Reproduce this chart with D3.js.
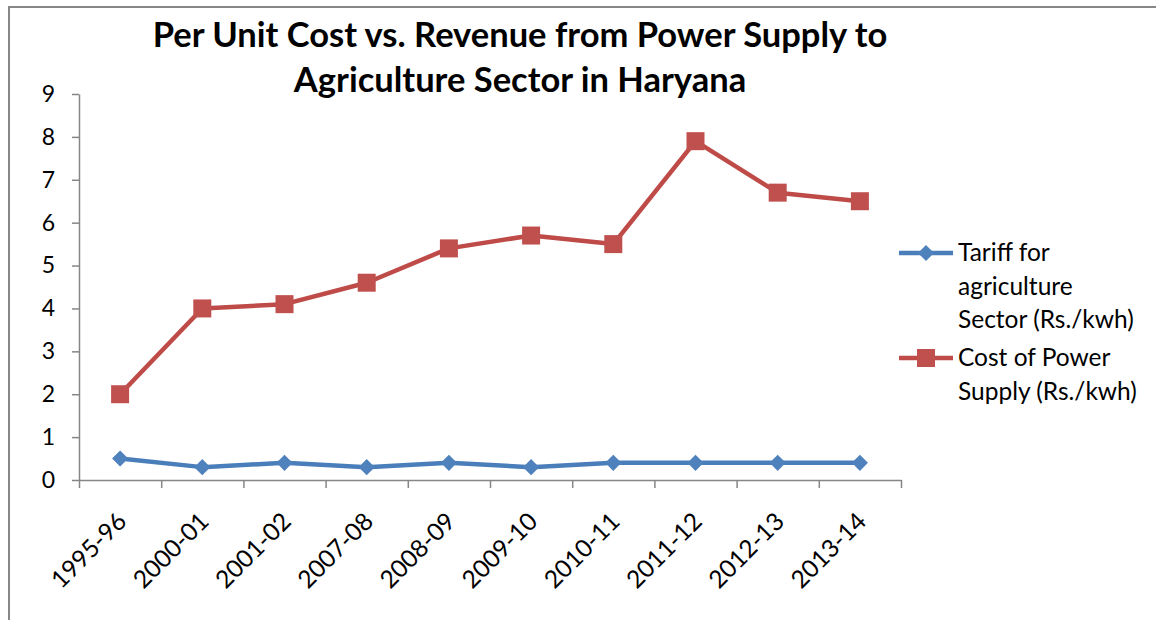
<!DOCTYPE html>
<html lang="en">
<head>
<meta charset="UTF-8">
<script src="https://d3js.org/d3.v7.min.js"></script>
<style>
  body { margin: 0; background: #fff; }
  svg text { font-family: Lato, "Open Sans", sans-serif; fill: #000; }
</style>
</head>
<body>
<div id="chart"></div>
<script>
// chart data
var years = ["1995-96", "2000-01", "2001-02", "2007-08", "2008-09", "2009-10", "2010-11", "2011-12", "2012-13", "2013-14"];
var tariff = [0.5, 0.3, 0.4, 0.3, 0.4, 0.3, 0.4, 0.4, 0.4, 0.4];
var cost = [2, 4, 4.1, 4.6, 5.4, 5.7, 5.5, 7.9, 6.7, 6.5];
var yTicks = [0, 1, 2, 3, 4, 5, 6, 7, 8, 9];
var titleLines = ["Per Unit Cost vs. Revenue from Power Supply to", "Agriculture Sector in Haryana"];

var width = 1156, height = 620;
var margin = {top: 94, right: 255, bottom: 140, left: 79};

var svg = d3.select("#chart").append("svg")
    .attr("width", width)
    .attr("height", height);

// outer chart border (runs off right and bottom)
svg.append("rect")
    .attr("x", 9).attr("y", 7)
    .attr("width", 1200).attr("height", 700)
    .attr("fill", "none")
    .attr("stroke", "#878787")
    .attr("stroke-width", 2);

var x = d3.scaleBand()
    .domain(years)
    .range([margin.left, width - margin.right]);

var xEdges = d3.scaleLinear()
    .domain([0, years.length])
    .range([margin.left, width - margin.right]);

var y = d3.scaleLinear()
    .domain([0, 9])
    .range([height - margin.bottom, margin.top]);

var cx = d => x(d) + x.bandwidth() / 2;

// y axis
svg.append("g")
    .attr("transform", `translate(${margin.left},0)`)
    .call(d3.axisLeft(y).tickValues(yTicks).tickSize(7).tickPadding(17).tickSizeOuter(0))
    .call(g => g.selectAll("path, line").attr("stroke", "#868686").attr("stroke-width", 1.5))
    .call(g => g.selectAll("text").attr("font-size", 23).attr("font-family", "Lato"));

// x axis: ticks between categories
svg.append("g")
    .attr("transform", `translate(0,${y(0)})`)
    .call(d3.axisBottom(xEdges).ticks(years.length).tickSize(8).tickFormat("").tickSizeOuter(0))
    .call(g => g.selectAll("path, line").attr("stroke", "#868686").attr("stroke-width", 1.5));

svg.append("g")
    .selectAll("text")
    .data(years)
    .join("text")
    .attr("transform", d => `translate(${cx(d) + 8},${y(0) + 43}) rotate(-45)`)
    .attr("text-anchor", "end")
    .attr("font-size", 24.5)
    .text(d => d);

// title
svg.append("g")
    .selectAll("text")
    .data(titleLines)
    .join("text")
    .attr("x", 520)
    .attr("y", (d, i) => 47 + i * 45)
    .attr("text-anchor", "middle")
    .attr("font-size", 34.5)
    .attr("font-weight", "bold")
    .text(d => d);

var line = d3.line()
    .x((d, i) => cx(years[i]))
    .y(d => y(d));

var blue = "#4A7EBB", blueFill = "#4F81BD";
var red = "#BE4B48", redFill = "#C0504D";

var diamond = d3.symbol().type(d3.symbolDiamond2).size(165);

svg.append("path")
    .datum(cost)
    .attr("fill", "none")
    .attr("stroke", red)
    .attr("stroke-width", 4.5)
    .attr("stroke-linejoin", "round")
    .attr("d", line);

svg.append("g")
    .selectAll("rect")
    .data(cost)
    .join("rect")
    .attr("x", (d, i) => cx(years[i]) - 9)
    .attr("y", d => y(d) - 9)
    .attr("width", 18)
    .attr("height", 18)
    .attr("fill", redFill);

svg.append("path")
    .datum(tariff)
    .attr("fill", "none")
    .attr("stroke", blue)
    .attr("stroke-width", 4.5)
    .attr("stroke-linejoin", "round")
    .attr("d", line);

svg.append("g")
    .selectAll("path")
    .data(tariff)
    .join("path")
    .attr("transform", (d, i) => `translate(${cx(years[i])},${y(d)})`)
    .attr("d", diamond)
    .attr("fill", blueFill);

// legend
var legend = [
    {name: ["Tariff for", "agriculture", "Sector (Rs./kwh)"], color: blue, fill: blueFill, marker: "diamond", y: 253},
    {name: ["Cost of Power", "Supply (Rs./kwh)"], color: red, fill: redFill, marker: "square", y: 358}
];

var lg = svg.append("g")
    .selectAll("g")
    .data(legend)
    .join("g")
    .attr("transform", d => `translate(0,${d.y})`);

lg.append("line")
    .attr("x1", 899).attr("x2", 953)
    .attr("stroke", d => d.color)
    .attr("stroke-width", 4.5);

lg.append("path")
    .attr("transform", "translate(926,0)")
    .attr("d", d => d.marker === "diamond"
        ? diamond()
        : d3.symbol().type(d3.symbolSquare).size(324)())
    .attr("fill", d => d.fill);

lg.append("text")
    .attr("x", 958)
    .attr("y", 8)
    .attr("font-size", 24.5)
    .selectAll("tspan")
    .data(d => d.name)
    .join("tspan")
    .attr("x", 958)
    .attr("dy", (d, i) => i === 0 ? 0 : 33.5)
    .text(d => d);
</script>
</body>
</html>
